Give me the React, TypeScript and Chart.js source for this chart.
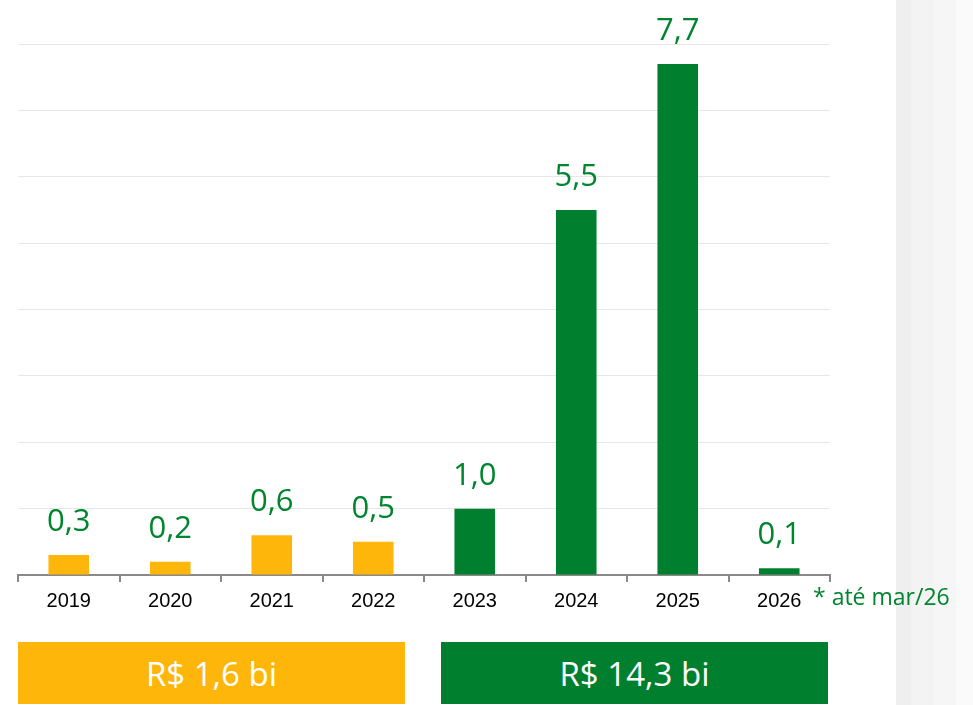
import React, { useEffect, useRef } from "react";
import { Chart, registerables } from "chart.js";

Chart.register(...registerables);

const years = ["2019", "2020", "2021", "2022", "2023", "2024", "2025", "2026"];
const values = [0.3, 0.2, 0.6, 0.5, 1.0, 5.5, 7.7, 0.1];
const phase = ["antes", "antes", "antes", "antes", "depois", "depois", "depois", "depois"];
const totals = ["R$ 1,6 bi", "R$ 14,3 bi"];
const footnote = "* até mar/26";
const yMax = 8;

const YELLOW = "#FFB60A";
const GREEN = "#00802F";
const LABEL_GREEN = "#00852F";

const valueLabels = {
  id: "valueLabels",
  afterDatasetsDraw(chart: any) {
    const ctx = chart.ctx;
    const meta = chart.getDatasetMeta(0);
    ctx.save();
    ctx.font = '31px "Open Sans"';
    ctx.fillStyle = LABEL_GREEN;
    ctx.textAlign = "center";
    ctx.textBaseline = "alphabetic";
    meta.data.forEach((bar: any, i: number) => {
      const txt = values[i].toFixed(1).replace(".", ",");
      ctx.fillText(txt, bar.x, bar.y - 24);
    });
    ctx.restore();
  },
};

export default function App() {
  const ref = useRef<HTMLCanvasElement | null>(null);

  useEffect(() => {
    if (!ref.current) return;
    const chart = new Chart(ref.current, {
      type: "bar",
      data: {
        labels: years,
        datasets: [
          {
            data: values,
            backgroundColor: phase.map((p) => (p === "antes" ? YELLOW : GREEN)),
            barPercentage: 0.4,
            categoryPercentage: 1,
            borderWidth: 0,
          },
        ],
      },
      options: {
        responsive: false,
        animation: false,
        events: [],
        layout: { padding: { left: 18, right: 143, top: 44, bottom: 0 } },
        plugins: { legend: { display: false }, tooltip: { enabled: false } },
        scales: {
          x: {
            type: "category",
            afterFit: (s: any) => {
              s.height = 130;
            },
            grid: {
              offset: true,
              drawOnChartArea: false,
              drawTicks: true,
              tickLength: 7,
              color: "#898989",
              lineWidth: 2,
            },
            border: { display: true, color: "#898989", width: 2 },
            ticks: {
              color: "#000000",
              font: { family: '"Liberation Sans", Arial, sans-serif', size: 20 },
              padding: 7,
              maxRotation: 0,
            },
          },
          y: {
            min: 0,
            max: yMax,
            afterFit: (s: any) => {
              s.width = 0;
            },
            ticks: { display: false, stepSize: 1 },
            grid: { color: "#E6E6E6", lineWidth: 1, drawTicks: false },
            border: { display: false },
          },
        },
      },
      plugins: [valueLabels],
    });
    return () => chart.destroy();
  }, []);

  const boxStyle = {
    position: "absolute" as const,
    top: 642,
    width: 387,
    height: 62,
    color: "#ffffff",
    fontFamily: '"Open Sans", sans-serif',
    fontSize: 33,
    display: "flex",
    alignItems: "center",
    justifyContent: "center",
  };

  return (
    <div
      style={{
        position: "absolute",
        left: 0,
        top: 0,
        width: 973,
        height: 705,
        background: "#ffffff",
        overflow: "hidden",
      }}
    >
      <div
        style={{
          position: "absolute",
          left: 896,
          top: 0,
          width: 77,
          height: 705,
          background:
            "linear-gradient(to right, #EFEFEF 0px, #EFEFEF 15px, #F3F3F3 15px, #F3F3F3 38px, #F6F6F6 38px, #F6F6F6 60px, #FAFAFA 60px, #FAFAFA 77px)",
        }}
      />
      <canvas
        ref={ref}
        width={973}
        height={705}
        style={{ position: "absolute", left: 0, top: 0, width: 973, height: 705 }}
      />
      <div
        style={{
          position: "absolute",
          left: 813,
          top: 585,
          fontFamily: '"Open Sans", sans-serif',
          fontSize: 23,
          lineHeight: "23px",
          color: LABEL_GREEN,
          whiteSpace: "nowrap",
        }}
      >
        {footnote}
      </div>
      <div style={{ ...boxStyle, left: 18, background: YELLOW }}>{totals[0]}</div>
      <div style={{ ...boxStyle, left: 441, background: GREEN }}>{totals[1]}</div>
    </div>
  );
}
